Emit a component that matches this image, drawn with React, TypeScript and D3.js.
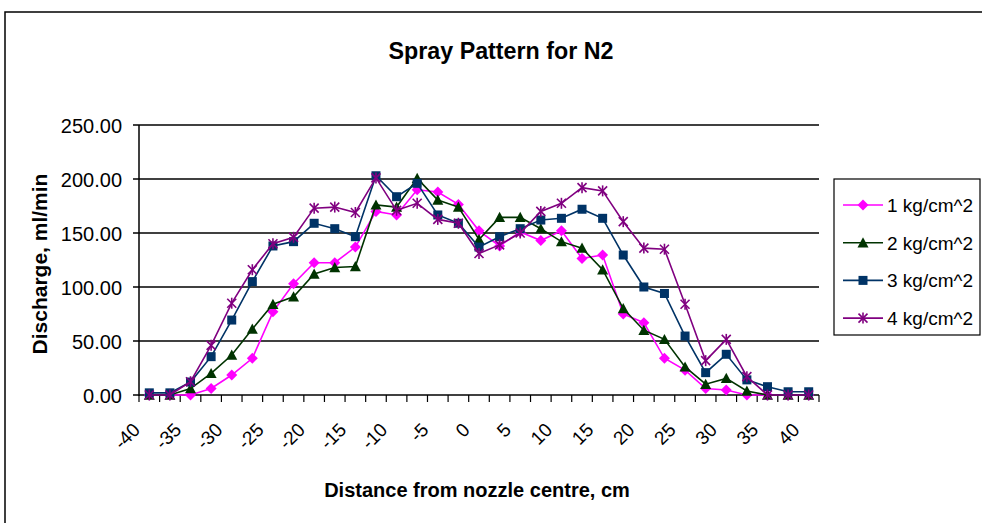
import React from "react";
import * as d3 from "d3";

const categories: number[] = d3.range(33).map((i) => -40 + i * 2.5);
const tickLabels: string[] = ["-40","-35","-30","-25","-20","-15","-10","-5","0","5","10","15","20","25","30","35","40"];
const yTicks: number[] = [0, 50, 100, 150, 200, 250];

const s1: number[] = [0,0,0,6,18.5,34,77,103,122.5,122.5,137,170,166.7,190,188,176.5,152,138,151,143,152,126.5,129.6,75,67,34,23,6,4.6,0,0,0,0];
const s2: number[] = [0,0,6,20,37,61,84,91,112,118,119,176,174,200.6,180.5,174,144,164.5,164.5,154,142,136,116,80,60,51.5,26,10,15.4,3.7,0,0,0];
const s3: number[] = [2,2,12,35.5,69.4,105,138,142,159,154,146.6,203,183.6,196,166.7,159,137,146.6,154,162,163.6,172,163.6,129.6,100,94,54.6,20.7,37.7,14,7.7,3,3];
const s4: number[] = [0,0,12.3,46,85,116,140,146,173,174,169,201,171,177.5,162.6,159,131,139,150,170,177.5,192,189,160.5,136,135,84,31.8,51.5,17,0,0,0];

const seriesNames: string[] = ["1 kg/cm^2", "2 kg/cm^2", "3 kg/cm^2", "4 kg/cm^2"];
const seriesData: number[][] = [s1, s2, s3, s4];
const lineColors: string[] = ["#FF00FF", "#003300", "#003366", "#800080"];
const markerColors: string[] = ["#FF00FF", "#003300", "#003366", "#800080"];
const markerTypes: string[] = ["diamond", "triangle", "square", "star"];

const FONT = "'Liberation Sans', Arial, sans-serif";

function Marker({ type, x, y, color }: { type: string; x: number; y: number; color: string }) {
  if (type === "diamond") {
    const r = 5.5;
    return <path d={`M${x},${y - r}L${x + r},${y}L${x},${y + r}L${x - r},${y}Z`} fill={color} />;
  }
  if (type === "triangle") {
    const r = 5.5;
    return <path d={`M${x},${y - r}L${x + r},${y + r * 0.85}L${x - r},${y + r * 0.85}Z`} fill={color} />;
  }
  if (type === "square") {
    const r = 4.5;
    return <rect x={x - r} y={y - r} width={2 * r} height={2 * r} fill={color} />;
  }
  const r = 4.5;
  return (
    <g stroke={color} strokeWidth={1.6}>
      <line x1={x - r} y1={y - r} x2={x + r} y2={y + r} />
      <line x1={x - r} y1={y + r} x2={x + r} y2={y - r} />
      <line x1={x} y1={y - r - 1} x2={x} y2={y + r + 1} />
    </g>
  );
}

export default function App() {
  const W = 982, H = 523;
  const X0 = 139, X1 = 819;
  const x = d3.scaleBand<number>().domain(d3.range(categories.length)).range([X0, X1]);
  const y = d3.scaleLinear().domain([0, 250]).range([395, 125]);
  const cx = (i: number) => (x(i) as number) + x.bandwidth() / 2;
  const line = d3.line<number>().x((_, i) => cx(i)).y((d) => y(d));

  const boundaries = d3.range(categories.length + 1).map((i) => X0 + i * x.bandwidth());

  return (
    <svg width={W} height={H} style={{ position: "absolute", left: 0, top: 0, background: "#fff" }} fontFamily={FONT}>
      <rect x={0} y={0} width={W} height={H} fill="#fff" />
      <rect x={5} y={12} width={990} height={530} fill="none" stroke="#000" strokeWidth={1.5} />
      <text x={501} y={59} textAnchor="middle" fontSize={24} fontWeight="bold" transform="translate(501,0) scale(0.97,1) translate(-501,0)">Spray Pattern for N2</text>

      {yTicks.map((t) => (
        <g key={t}>
          <line x1={133} x2={X1} y1={y(t)} y2={y(t)} stroke="#000" strokeWidth={1.5} />
          <text x={122} y={y(t) + 7.5} textAnchor="end" fontSize={20}>{t.toFixed(2)}</text>
        </g>
      ))}
      <line x1={X0} x2={X0} y1={125} y2={396} stroke="#000" strokeWidth={1.5} />
      {boundaries.map((b, i) => (
        <line key={i} x1={b} x2={b} y1={395} y2={402} stroke="#000" strokeWidth={1.2} />
      ))}
      {tickLabels.map((t, k) => {
        const i = k * 2;
        return (
          <text key={t} transform={`translate(${cx(i) - 8},${431}) rotate(-45)`} textAnchor="end" fontSize={19}>{t}</text>
        );
      })}

      {seriesData.map((s, si) => (
        <g key={si}>
          <path d={line(s) as string} fill="none" stroke={lineColors[si]} strokeWidth={1.6} />
          {s.map((v, i) => (
            <Marker key={i} type={markerTypes[si]} x={cx(i)} y={y(v)} color={markerColors[si]} />
          ))}
        </g>
      ))}

      <text transform={`translate(47,${264}) rotate(-90)`} textAnchor="middle" fontSize={21} fontWeight="bold">Discharge, ml/min</text>
      <text x={477} y={497} textAnchor="middle" fontSize={20} fontWeight="bold">Distance from nozzle centre, cm</text>

      <rect x={834} y={179} width={146} height={156} fill="#fff" stroke="#000" strokeWidth={1.2} />
      {seriesNames.map((n, si) => {
        const ly = 205 + si * 37.7;
        return (
          <g key={n}>
            <line x1={843} x2={883} y1={ly} y2={ly} stroke={lineColors[si]} strokeWidth={1.6} />
            <Marker type={markerTypes[si]} x={863} y={ly} color={markerColors[si]} />
            <text x={887} y={ly + 7} fontSize={19}>{n}</text>
          </g>
        );
      })}
    </svg>
  );
}
